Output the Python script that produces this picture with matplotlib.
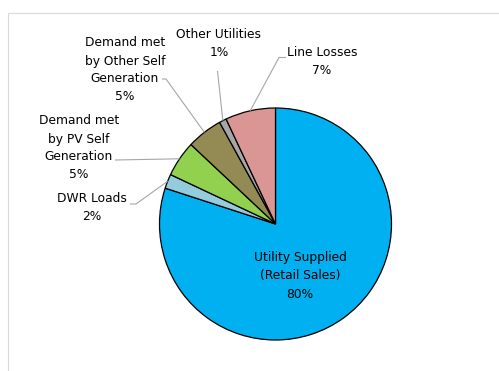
import numpy as np
import matplotlib
matplotlib.use("Agg")
import matplotlib.pyplot as plt
from matplotlib.patches import Rectangle

# Share of total demand (%)
categories = [
    "Utility Supplied\n(Retail Sales)",
    "DWR Loads",
    "Demand met\nby PV Self\nGeneration",
    "Demand met\nby Other Self\nGeneration",
    "Other Utilities",
    "Line Losses",
]
values = [80, 2, 5, 5, 1, 7]
colors = ["#00B0F0", "#93CDDD", "#92D050", "#948A54", "#A6A6A6", "#D99694"]

W, H = 499, 371
fig = plt.figure(figsize=(W / 100, H / 100), dpi=100)
ax = fig.add_axes([0, 0, 1, 1])
ax.set_xlim(0, W)
ax.set_ylim(0, H)
ax.set_aspect("equal")
ax.axis("off")

# chart area border (top and left edges visible)
ax.add_patch(Rectangle((8.5, -20), 700, H - 12.5 + 20, fill=False,
                       edgecolor="#D9D9D9", linewidth=0.8))

cx, cy, r = 275.5, H - 224, 116
wedges, _ = ax.pie(values, colors=colors, startangle=90, counterclock=False,
                   radius=r, center=(cx, cy), frame=True,
                   wedgeprops=dict(edgecolor="black", linewidth=0.9))
ax.set_xlim(0, W)
ax.set_ylim(0, H)
ax.axis("off")

font = dict(family="DejaVu Sans", size=8.8, color="black",
            ha="center", va="center", linespacing=1.5)

def label(i):
    return f"{categories[i]}\n{values[i]}%"

def edge_point(w, frac=1.0):
    ang = np.deg2rad((w.theta1 + w.theta2) / 2)
    return cx + r * frac * np.cos(ang), cy + r * frac * np.sin(ang)

# Utility Supplied: label inside the slice
ax.text(300, H - 276, label(0), **font)

# Outside labels: (index, text centre, leader start, leader elbow)
outside = [
    (1, (92, H - 207), (130, H - 204), (136, H - 204)),
    (2, (79, H - 148), (115, H - 160), (115, H - 160)),
    (3, (125, H - 70), (162, H - 79), (166, H - 79)),
    (4, (219, H - 44), (217.5, H - 71), (217.5, H - 71)),
    (5, (322, H - 62), (286, H - 57.5), (279, H - 57.5)),
]
for i, pos, start, elbow in outside:
    ax.text(pos[0], pos[1], label(i), **font)
    ex, ey = edge_point(wedges[i])
    ax.plot([start[0], elbow[0], ex], [start[1], elbow[1], ey],
            color="#A6A6A6", linewidth=0.8, solid_capstyle="butt")

fig.savefig("out.png", dpi=100)
